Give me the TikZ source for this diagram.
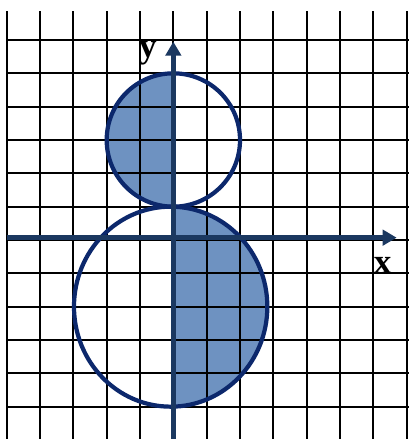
\documentclass[tikz,border=0pt]{standalone}
\usepackage{fontspec}
\setmainfont{Liberation Serif}
\usetikzlibrary{arrows.meta}
\definecolor{halfshade}{RGB}{110,146,193}
\definecolor{ringblue}{RGB}{12,40,108}
\definecolor{axisblue}{RGB}{27,56,96}
\begin{document}
\begin{tikzpicture}[
  gridline/.style={black, line width=1.8pt},
  ringline/.style={ringblue, line width=3.6pt},
  axisline/.style={axisblue, line width=4.3pt, -{Triangle[length=0.42cm, width=0.46cm]}},
  axislabel/.style={font=\fontsize{30}{32}\selectfont\bfseries}
]
  \useasboundingbox (-5.2,-5.97) rectangle (7.04,7.2);

  % Shaded halves
  \begin{scope}
    \clip (-5,0.9) rectangle (0,5.2);
    \fill[halfshade] (0,3) circle (2);
  \end{scope}
  \begin{scope}
    \clip (0,-5.2) rectangle (3,1.2);
    \fill[halfshade] (-0.08,-2) ellipse (2.9 and 3);
  \end{scope}

  % Grid
  \foreach \x in {-5,...,7}
    \draw[gridline] (\x,-6.1) -- (\x,6.87);
  \foreach \y in {-5,...,6}
    \draw[gridline] (-5,\y) -- (7.2,\y);

  % Circles
  \draw[ringline] (0,3) circle (2);
  \draw[ringline] (-0.08,-2) ellipse (2.9 and 3);

  % Axes
  \coordinate (xstart) at (-5,0.07);
  \coordinate (xend) at (6.7,0.07);
  \coordinate (ystart) at (0,-6.1);
  \coordinate (yend) at (0,5.95);
  \draw[axisline] (xstart) -- (xend);
  \draw[axisline] (ystart) -- (yend);
  \node[axislabel] (ylabel) at (-0.76,5.61) {y};
  \node[axislabel] (xlabel) at (6.28,-0.75) {x};
\end{tikzpicture}
\end{document}
